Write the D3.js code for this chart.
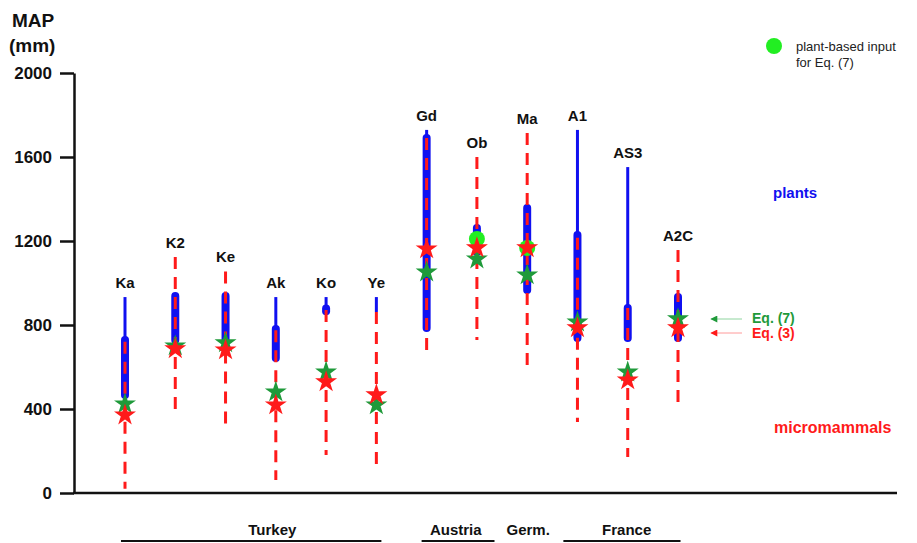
<!DOCTYPE html>
<html>
<head>
<meta charset="utf-8">
<script src="https://cdn.jsdelivr.net/npm/d3@7"></script>
<style>
  body { margin: 0; background: #fff; }
  svg { font-family: "Liberation Sans", Arial, sans-serif; }
</style>
</head>
<body>
<svg id="chart"></svg>
<script>
// sites along the x axis
const sites = ["Ka", "K2", "Ke", "Ak", "Ko", "Ye", "Gd", "Ob", "Ma", "A1", "AS3", "A2C"];

// plant-based MAP ranges (thin = full, thick = core)
const plantMin = [467, 728, 728, 643, 871, 862, 786, 1148, 967, 738, 738, 738];
const plantMax = [933, 938, 938, 933, 933, 933, 1729, 1262, 1357, 1729, 1552, 933];
const coreMin  = [467, 728, 728, 643, 866, null, 786, 1148, 967, 738, 738, 738];
const coreMax  = [728, 938, 938, 781, 878, null, 1690, 1262, 1357, 1229, 881, 933];

// micromammal ranges (red dashed)
const mammalMin = [20, 381, 310, 62, 181, 110, 681, 729, 600, 338, 171, 419];
const mammalMax = [720, 1124, 1055, 775, 871, 862, 1690, 1600, 1714, 1215, 881, 1157];

// estimates
const eq7 = [424, 700, 715, 481, 576, 419, 1052, 1114, 1038, 814, 576, 829];
const eq3 = [371, 686, 681, 419, 529, 467, 1162, 1167, 1167, 786, 538, 786];
const plantInput = [null, null, null, null, null, null, null, 1210, 1167, null, null, null];

// countries below the axis
const countries = ["Turkey", "Austria", "Germ.", "France"];
const countryCenter = [2.93, 6.58, 8.02, 9.98];          // in site-index units
const countrySpan = [[-0.08, 5.1], [5.9, 7.35], null, [8.72, 11.05]];

const yTicks = [0, 400, 800, 1200, 1600, 2000];

const width = 917, height = 543;
const svg = d3.select('#chart').attr('width', width).attr('height', height);

const x = d3.scalePoint().domain(sites).range([125, 678]);
const xi = d3.scaleLinear().domain([0, sites.length - 1]).range([125, 678]);
const y = d3.scaleLinear().domain([0, 2000]).range([493, 73]);

const blue = '#1010f0', red = '#ff1a1a', dkGreen = '#1f9a3a', ltGreen = '#22ee22';

// y axis
const yAxis = svg.append('g')
    .attr('transform', 'translate(74,0)')
    .call(d3.axisLeft(y).tickValues(yTicks).tickFormat(d3.format('d'))
        .tickSize(14).tickPadding(8).tickSizeOuter(0));
yAxis.select('.domain').attr('stroke', '#111').attr('stroke-width', 2.5);
yAxis.selectAll('.tick line').attr('stroke', '#111').attr('stroke-width', 2.5);
yAxis.selectAll('.tick text')
    .attr('font-size', 17).attr('font-weight', 'bold').attr('fill', '#111')
    .attr('font-family', '"Liberation Sans", Arial, sans-serif');

// x axis line
svg.append('line')
    .attr('x1', 73).attr('x2', 897).attr('y1', y(0)).attr('y2', y(0))
    .attr('stroke', '#111').attr('stroke-width', 2.5);

svg.append('text').attr('x', 12).attr('y', 27).text('MAP')
    .attr('font-size', 19).attr('font-weight', 'bold').attr('fill', '#111');
svg.append('text').attr('x', 9).attr('y', 52).text('(mm)')
    .attr('font-size', 19).attr('font-weight', 'bold').attr('fill', '#111');

const rows = sites.map((s, i) => ({
    site: s, pMin: plantMin[i], pMax: plantMax[i], cMin: coreMin[i], cMax: coreMax[i],
    mMin: mammalMin[i], mMax: mammalMax[i], e7: eq7[i], e3: eq3[i], pi: plantInput[i]
}));

// thin blue
svg.selectAll('line.thin').data(rows).enter().append('line')
    .attr('class', 'thin')
    .attr('x1', d => x(d.site)).attr('x2', d => x(d.site))
    .attr('y1', d => y(d.pMin)).attr('y2', d => y(d.pMax))
    .attr('stroke', blue).attr('stroke-width', 3);

// thick blue
svg.selectAll('line.thick').data(rows.filter(d => d.cMin != null)).enter().append('line')
    .attr('class', 'thick')
    .attr('x1', d => x(d.site)).attr('x2', d => x(d.site))
    .attr('y1', d => y(d.cMin)).attr('y2', d => y(d.cMax))
    .attr('stroke', blue).attr('stroke-width', 8).attr('stroke-linecap', 'round');

// red dashed micromammal ranges
svg.selectAll('line.mam').data(rows).enter().append('line')
    .attr('class', 'mam')
    .attr('x1', d => x(d.site)).attr('x2', d => x(d.site))
    .attr('y1', d => y(d.mMax)).attr('y2', d => y(d.mMin))
    .attr('stroke', red).attr('stroke-width', 3).attr('stroke-dasharray', '12 8');

// plant-based input circles
svg.selectAll('circle.pi').data(rows.filter(d => d.pi != null)).enter().append('circle')
    .attr('class', 'pi')
    .attr('cx', d => x(d.site)).attr('cy', d => y(d.pi)).attr('r', 8)
    .attr('fill', ltGreen);

const star = d3.symbol(d3.symbolStar).size(150);

svg.selectAll('path.e7').data(rows).enter().append('path')
    .attr('class', 'e7')
    .attr('transform', d => `translate(${x(d.site)},${y(d.e7)})`)
    .attr('d', star).attr('fill', dkGreen);

svg.selectAll('path.e3').data(rows).enter().append('path')
    .attr('class', 'e3')
    .attr('transform', d => `translate(${x(d.site)},${y(d.e3)})`)
    .attr('d', star).attr('fill', red);

// site labels above the top of each range
svg.selectAll('text.site').data(rows).enter().append('text')
    .attr('class', 'site')
    .attr('x', d => x(d.site))
    .attr('y', d => y(Math.max(d.pMax, d.mMax)) - 9)
    .attr('text-anchor', 'middle')
    .attr('font-size', 15).attr('font-weight', 'bold').attr('fill', '#111')
    .text(d => d.site);

// countries
countries.forEach((c, i) => {
    svg.append('text')
        .attr('x', xi(countryCenter[i])).attr('y', 535)
        .attr('text-anchor', 'middle')
        .attr('font-size', 15).attr('font-weight', 'bold').attr('fill', '#111')
        .text(c);
    if (countrySpan[i]) {
        svg.append('line')
            .attr('x1', xi(countrySpan[i][0])).attr('x2', xi(countrySpan[i][1]))
            .attr('y1', 541).attr('y2', 541)
            .attr('stroke', '#111').attr('stroke-width', 2);
    }
});

// side annotations
svg.append('text').attr('x', 773).attr('y', 198).text('plants')
    .attr('font-size', 15).attr('font-weight', 'bold').attr('fill', blue);
svg.append('text').attr('x', 774).attr('y', 433).text('micromammals')
    .attr('font-size', 16).attr('font-weight', 'bold').attr('fill', red);

const defs = svg.append('defs');
[['g', dkGreen], ['r', red]].forEach(([id, col]) => {
    defs.append('marker').attr('id', 'arr' + id)
        .attr('viewBox', '0 0 10 10').attr('refX', 9).attr('refY', 5)
        .attr('markerWidth', 8).attr('markerHeight', 7).attr('markerUnits', 'userSpaceOnUse')
        .attr('orient', 'auto')
        .append('path').attr('d', 'M0,0 L10,5 L0,10 Z').attr('fill', col);
});
svg.append('line').attr('x1', 742).attr('x2', 711).attr('y1', 319).attr('y2', 319)
    .attr('stroke', '#8fd49f').attr('stroke-width', 1).attr('marker-end', 'url(#arrg)');
svg.append('line').attr('x1', 742).attr('x2', 711).attr('y1', 333).attr('y2', 333)
    .attr('stroke', '#ff9a9a').attr('stroke-width', 1).attr('marker-end', 'url(#arrr)');
svg.append('text').attr('x', 752).attr('y', 323).text('Eq. (7)')
    .attr('font-size', 14).attr('font-weight', 'bold').attr('fill', dkGreen);
svg.append('text').attr('x', 752).attr('y', 338).text('Eq. (3)')
    .attr('font-size', 14).attr('font-weight', 'bold').attr('fill', red);

// legend
svg.append('circle').attr('cx', 774).attr('cy', 46).attr('r', 8).attr('fill', ltGreen);
svg.append('text').attr('x', 796).attr('y', 51).text('plant-based input')
    .attr('font-size', 13).attr('fill', '#222');
svg.append('text').attr('x', 796).attr('y', 67).text('for Eq. (7)')
    .attr('font-size', 13).attr('fill', '#222');
</script>
</body>
</html>
